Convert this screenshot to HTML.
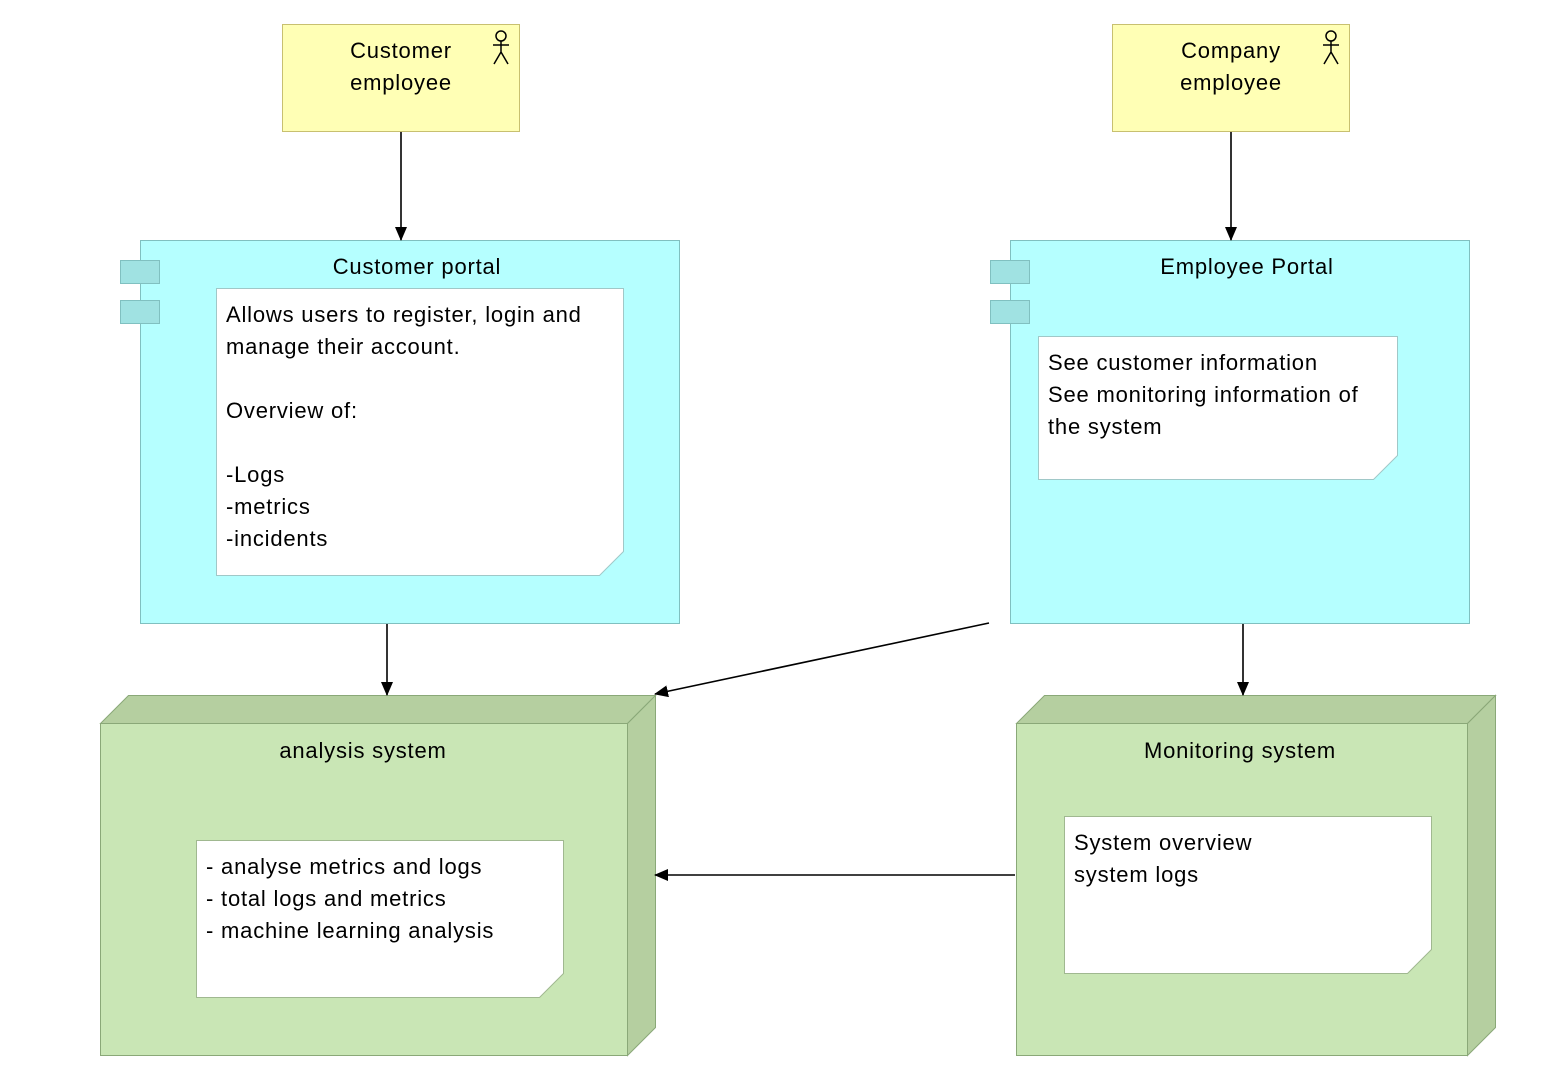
<!DOCTYPE html>
<html><head><meta charset="utf-8"><style>
html,body{margin:0;padding:0;background:#fff}
svg text{font-family:"Liberation Sans",sans-serif;font-size:22px;letter-spacing:0.8px;fill:#000}
</style></head><body>
<svg width="1555" height="1071" viewBox="0 0 1555 1071" xmlns="http://www.w3.org/2000/svg">
<defs><marker id="a" markerWidth="14" markerHeight="12" refX="13" refY="6" orient="auto" markerUnits="userSpaceOnUse"><path d="M0,0 L14,6 L0,12 z" fill="#000"/></marker></defs>
<!-- actors -->
<rect x="282.5" y="24.5" width="237" height="107" fill="#ffffb5" stroke="#c8c070"/>
<text x="401" y="58" text-anchor="middle">Customer</text><text x="401" y="90" text-anchor="middle">employee</text>
<g stroke="#000" stroke-width="1.5" fill="none"><circle cx="501" cy="36" r="5"/><path d="M501,41v11M493,45h16M501,52l-7,12M501,52l7,12"/></g>
<rect x="1112.5" y="24.5" width="237" height="107" fill="#ffffb5" stroke="#c8c070"/>
<text x="1231" y="58" text-anchor="middle">Company</text><text x="1231" y="90" text-anchor="middle">employee</text>
<g stroke="#000" stroke-width="1.5" fill="none"><circle cx="1331" cy="36" r="5"/><path d="M1331,41v11M1323,45h16M1331,52l-7,12M1331,52l7,12"/></g>
<!-- portals -->
<rect x="140.5" y="240.5" width="539" height="383" fill="#b5ffff" stroke="#80c0c0"/>
<rect x="120.5" y="260.5" width="39" height="23" fill="#a0e2e2" stroke="#80c0c0"/>
<rect x="120.5" y="300.5" width="39" height="23" fill="#a0e2e2" stroke="#80c0c0"/>
<text x="417" y="274" text-anchor="middle">Customer portal</text>
<path d="M216.5,288.5H623.5V551.5L599.5,575.5H216.5Z" fill="#fff" stroke="#a0c8c8"/>
<g><text x="226" y="322">Allows users to register, login and</text><text x="226" y="354">manage their account.</text><text x="226" y="418">Overview of:</text><text x="226" y="482">-Logs</text><text x="226" y="514">-metrics</text><text x="226" y="546">-incidents</text></g>
<rect x="1010.5" y="240.5" width="459" height="383" fill="#b5ffff" stroke="#80c0c0"/>
<rect x="990.5" y="260.5" width="39" height="23" fill="#a0e2e2" stroke="#80c0c0"/>
<rect x="990.5" y="300.5" width="39" height="23" fill="#a0e2e2" stroke="#80c0c0"/>
<text x="1247" y="274" text-anchor="middle">Employee Portal</text>
<path d="M1038.5,336.5H1397.5V455.5L1373.5,479.5H1038.5Z" fill="#fff" stroke="#a0c8c8"/>
<text x="1048" y="370">See customer information</text><text x="1048" y="402">See monitoring information of</text><text x="1048" y="434">the system</text>
<!-- nodes -->
<g stroke="#8aa878">
<path d="M100.5,723.5L128.5,695.5H655.5L627.5,723.5Z" fill="#b5cfa0"/>
<path d="M627.5,723.5L655.5,695.5V1027.5L627.5,1055.5Z" fill="#b5cfa0"/>
<rect x="100.5" y="723.5" width="527" height="332" fill="#c9e6b5"/>
<path d="M1016.5,723.5L1044.5,695.5H1495.5L1467.5,723.5Z" fill="#b5cfa0"/>
<path d="M1467.5,723.5L1495.5,695.5V1027.5L1467.5,1055.5Z" fill="#b5cfa0"/>
<rect x="1016.5" y="723.5" width="451" height="332" fill="#c9e6b5"/>
</g>
<text x="363" y="758" text-anchor="middle">analysis system</text>
<path d="M196.5,840.5H563.5V973.5L539.5,997.5H196.5Z" fill="#fff" stroke="#a0b890"/>
<text x="206" y="874">- analyse metrics and logs</text><text x="206" y="906">- total logs and metrics</text><text x="206" y="938">- machine learning analysis</text>
<text x="1240" y="758" text-anchor="middle">Monitoring system</text>
<path d="M1064.5,816.5H1431.5V949.5L1407.5,973.5H1064.5Z" fill="#fff" stroke="#a0b890"/>
<text x="1074" y="850">System overview</text><text x="1074" y="882">system logs</text>
<!-- arrows -->
<g stroke="#000" stroke-width="1.6" fill="none" marker-end="url(#a)">
<path d="M401,132V240"/><path d="M1231,132V240"/><path d="M387,624V695"/>
<path d="M989,623L655,694"/><path d="M1243,624V695"/><path d="M1015,875H655"/>
</g>
</svg>
</body></html>
